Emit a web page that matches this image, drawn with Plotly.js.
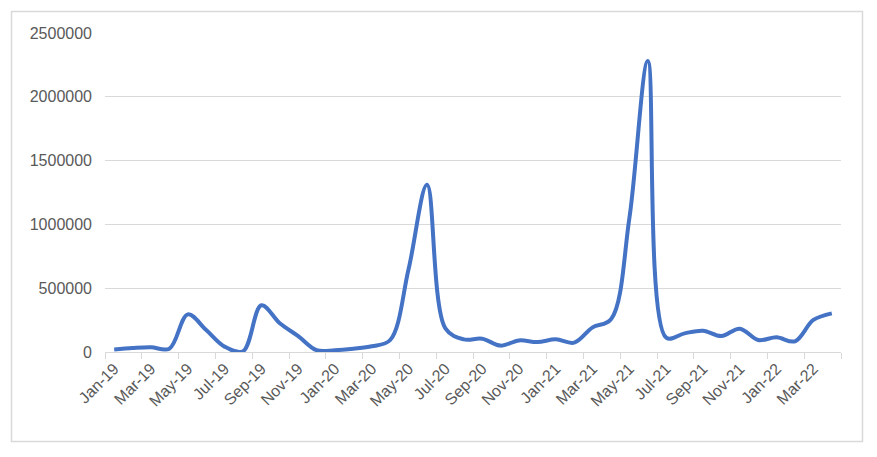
<!DOCTYPE html>
<html>
<head>
<meta charset="utf-8">
<script src="https://cdn.plot.ly/plotly-3.0.1.min.js"></script>
<style>
  html, body { margin: 0; padding: 0; background: #ffffff; }
  #chart { width: 877px; height: 457px; }
</style>
</head>
<body>
<div id="chart"></div>
<script>
const months = [
  "Jan-19","Feb-19","Mar-19","Apr-19","May-19","Jun-19","Jul-19","Aug-19","Sep-19","Oct-19","Nov-19","Dec-19",
  "Jan-20","Feb-20","Mar-20","Apr-20","May-20","Jun-20","Jul-20","Aug-20","Sep-20","Oct-20","Nov-20","Dec-20",
  "Jan-21","Feb-21","Mar-21","Apr-21","May-21","Jun-21","Jul-21","Aug-21","Sep-21","Oct-21","Nov-21","Dec-21",
  "Jan-22","Feb-22","Mar-22","Apr-22"
];
const values = [
  20000, 31000, 37000, 26000, 295000, 172000, 42000, 6000, 366000, 225000, 125000, 14000,
  14000, 26000, 45000, 94000, 650000, 1310000, 185000, 99000, 104000, 50000, 91000, 78000,
  99000, 73000, 193000, 256000, 1050000, 2280000, 112000, 146000, 167000, 125000, 183000, 94000,
  115000, 84000, 251000, 303000
];
const yTicks = [0, 500000, 1000000, 1500000, 2000000, 2500000];

const trace = {
  x: months,
  y: values,
  type: "scatter",
  mode: "lines",
  line: { color: "#4472C4", width: 4, shape: "spline", smoothing: 1 },
  hoverinfo: "x+y"
};

const font = { family: "Liberation Sans, Arial, sans-serif", size: 16, color: "#595959" };

const layout = {
  width: 877,
  height: 457,
  margin: { l: 105, r: 36, t: 33, b: 105, pad: 0 },
  paper_bgcolor: "#ffffff",
  plot_bgcolor: "#ffffff",
  showlegend: false,
  font: font,
  xaxis: {
    type: "category",
    categoryorder: "array",
    categoryarray: months,
    range: [-0.5, months.length - 0.5],
    dtick: 2,
    tickson: "boundaries",
    ticks: "outside",
    ticklen: 6,
    tickcolor: "#d9d9d9",
    tickwidth: 1,
    tickangle: -45,
    tickfont: font,
    showgrid: false,
    showline: true,
    linecolor: "#d9d9d9",
    linewidth: 1,
    zeroline: false,
    fixedrange: true
  },
  yaxis: {
    range: [0, 2500000],
    tickvals: yTicks,
    tickformat: "d",
    tickfont: font,
    ticks: "",
    ticklabelstandoff: 12,
    showgrid: true,
    gridcolor: "#d9d9d9",
    gridwidth: 1,
    zeroline: false,
    showline: false,
    fixedrange: true
  },
  shapes: [{
    type: "rect",
    xref: "paper", yref: "paper",
    x0: (11.5 - 105) / 736, x1: (862.5 - 105) / 736,
    y0: (352 - 441.5) / 319, y1: (352 - 11.5) / 319,
    line: { color: "#d9d9d9", width: 1.5 },
    fillcolor: "rgba(0,0,0,0)",
    layer: "below"
  }]
};

Plotly.newPlot("chart", [trace], layout, { displayModeBar: false, staticPlot: true });
</script>
</body>
</html>
